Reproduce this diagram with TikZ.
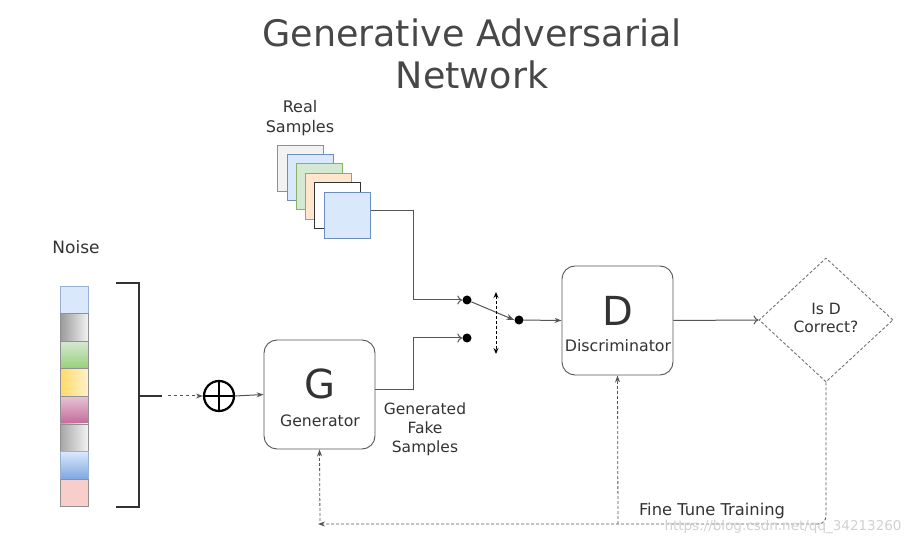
\documentclass[tikz,border=0pt]{standalone}
\usepackage{fontspec}
\setmainfont{DejaVu Sans}
\usetikzlibrary{arrows.meta,shapes.geometric}
\definecolor{txt}{HTML}{333333}
\definecolor{ln}{HTML}{555555}
\definecolor{bluef}{HTML}{DAE8FC}\definecolor{bluel}{HTML}{6C8EBF}
\definecolor{greenf}{HTML}{D5E8D4}\definecolor{greenl}{HTML}{82B366}
\definecolor{orangef}{HTML}{FFE6CC}\definecolor{orangel}{HTML}{D79B00}
\definecolor{grayf}{HTML}{F2F2F2}\definecolor{grayl}{HTML}{909090}
\definecolor{pinkf}{HTML}{F8CECC}\definecolor{pinkl}{HTML}{B85450}
\definecolor{greend}{HTML}{97D077}
\definecolor{yellowd}{HTML}{FFD966}\definecolor{yellowl}{HTML}{FFF2CC}
\definecolor{pinkt}{HTML}{E6C3D6}\definecolor{pinkd}{HTML}{C3699A}
\definecolor{blued}{HTML}{7EA6E0}
\tikzset{
  lbl/.style={text=txt, align=center, inner sep=0pt},
  sample/.style={draw=#1, line width=0.9pt, minimum size=46pt, inner sep=0pt},
  blk/.style={draw=ln, line width=0.9pt, rounded corners=13pt, minimum width=111pt, minimum height=109pt, inner sep=0pt},
  dot/.style={circle, fill=black, inner sep=0pt, minimum size=9pt},
  conn/.style={draw=ln, line width=1pt},
  fb/.style={draw=ln, line width=0.8pt, densely dashed},
  cell/.style={draw=grayl, line width=0.6pt, minimum width=28pt, minimum height=27.6pt, inner sep=0pt},
}
\begin{document}
\begin{tikzpicture}[x=1pt,y=-1pt]
\useasboundingbox[fill=white] (0,0) rectangle (914,545);
% title
\node[lbl, text=black!72, font=\fontsize{36.5}{42}\selectfont] (title) at (472,54) {Generative Adversarial\\Network};
% real samples
\node[lbl, font=\fontsize{16}{20}\selectfont] (rs) at (300,118) {Real\\Samples};
\node[sample=grayl, fill=grayf] (S1) at (300.5,168) {};
\node[sample=bluel, fill=bluef] (S2) at (310,177) {};
\node[sample=greenl, fill=greenf] (S3) at (319.5,186) {};
\node[sample=orangel, fill=orangef] (S4) at (328.5,196) {};
\node[sample=black!80, fill=white] (S5) at (337.5,205.5) {};
\node[sample=bluel, fill=bluef] (S6) at (347.5,215) {};
% noise
\node[lbl, font=\fontsize{17}{20}\selectfont] (noise) at (76,247) {Noise};
\node[cell, draw=bluel!70, fill=bluef] (n1) at (74,299.8) {};
\node[cell, left color=black!40, right color=black!5] (n2) at (74,327.4) {};
\node[cell, top color=greenf, bottom color=greend] (n3) at (74,355) {};
\node[cell, left color=yellowd, right color=yellowl] (n4) at (74,382.6) {};
\node[cell, top color=pinkt, bottom color=pinkd] (n5) at (74,410.2) {};
\node[cell, left color=black!35, right color=black!5] (n6) at (74,437.8) {};
\node[cell, draw=bluel!70, top color=bluef, bottom color=blued] (n7) at (74,465.4) {};
\node[cell, fill=pinkf] (n8) at (74,493) {};
% bracket
\coordinate (b1) at (116,283);
\coordinate (b2) at (139,283);
\coordinate (b3) at (139,507);
\coordinate (b4) at (116,507);
\coordinate (bm) at (139,396);
\coordinate (bs) at (162,396);
\coordinate (ba) at (168,396);
\draw[black!80, line width=1.6pt] (b1) -- (b2) -- (b3) -- (b4);
\draw[black!80, line width=1.6pt] (bm) -- (bs);
% oplus
\node[circle, draw=black, line width=2.2pt, minimum size=30pt, inner sep=0pt] (op) at (219,396) {};
\draw[black, line width=2.2pt] (op.north) -- (op.south) (op.west) -- (op.east);
\draw[conn, dashed, -{Stealth[length=7pt,width=5pt]}] (ba) -- (op.west);
% generator
\node[blk] (G) at (319.5,394.5) {};
\node[lbl, font=\fontsize{40}{40}\selectfont] (Gl) at (320,384) {G};
\node[lbl, font=\fontsize{15.7}{17}\selectfont] (Gt) at (320,421) {Generator};
\draw[conn, -{Stealth[length=7pt,width=5pt]}] (op.east) -- (G.west);
\node[lbl, font=\fontsize{15.5}{19}\selectfont] (gfs) at (425,429) {Generated\\Fake\\Samples};
% switch
\node[dot] (d1) at (467,300) {};
\node[dot] (d2) at (467,338) {};
\node[dot] (d3) at (519,320) {};
\coordinate (c1) at (413,300);
\coordinate (c2) at (413,338);
\draw[conn, -{To[length=5pt,width=9pt]}] (S6.east |- 0,211) -| (c1) -- (d1.west);
\draw[conn, -{To[length=5pt,width=9pt]}] (G.east |- 0,390) -| (c2) -- (d2.west);
\draw[conn, -{Stealth[length=8pt,width=6pt]}] (d1) -- (d3.west);
\coordinate (sw1) at (496,292);
\coordinate (sw2) at (496,354);
\draw[black, line width=0.9pt, densely dashed, {Stealth[length=6pt,width=5pt]}-{Stealth[length=6pt,width=5pt]}] (sw1) -- (sw2);
% discriminator
\node[blk] (D) at (617.5,320.5) {};
\node[lbl, font=\fontsize{40}{40}\selectfont] (Dl) at (618,311) {D};
\node[lbl, font=\fontsize{15.8}{17}\selectfont] (Dt) at (618,346) {Discriminator};
\draw[conn, -{Stealth[length=7pt,width=5pt]}] (d3) -- (D.west);
% decision
\node[diamond, draw=black!55, densely dashed, line width=0.9pt, minimum width=134pt, minimum height=124pt, inner sep=0pt] (Q) at (826,320) {};
\node[lbl, font=\fontsize{15.5}{18}\selectfont] (Qt) at (826,318) {Is D\\Correct?};
\draw[conn, -{To[length=5pt,width=9pt]}] (D.east) -- (Q.west);
% feedback
\coordinate (f1) at (318,524);
\coordinate (f2) at (618,524);
\draw[fb, rounded corners=8pt, -{Stealth[length=7pt,width=5pt]}] (Q.south) |- (f1);
\draw[fb, -{Stealth[length=7pt,width=5pt]}] (320,521) -- (G.south);
\draw[fb, -{Stealth[length=7pt,width=5pt]}] (f2) -- (D.south);
\node[lbl, font=\fontsize{16.3}{19}\selectfont] (ft) at (712,511) {Fine Tune Training};
\node[lbl, text=black!18, font=\fontsize{13.5}{16}\selectfont] (wm) at (783,527) {https://blog.csdn.net/qq\_34213260};
\end{tikzpicture}
\end{document}
